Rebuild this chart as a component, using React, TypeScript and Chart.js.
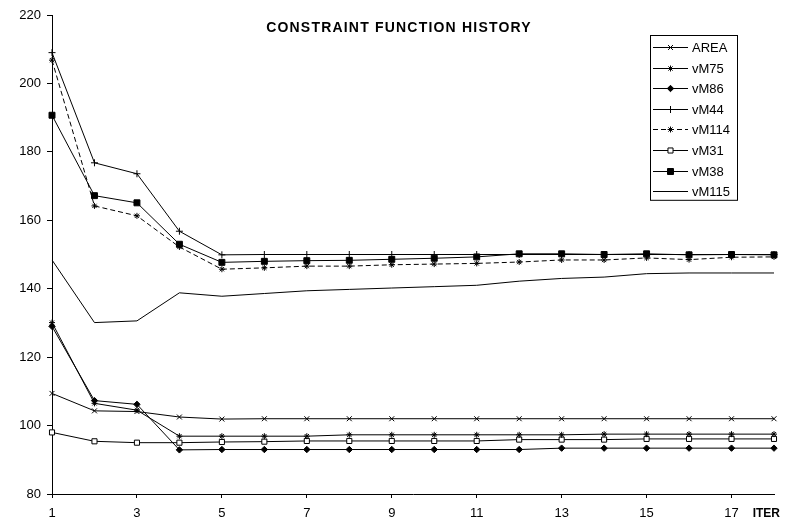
import React, { useEffect, useRef } from 'react';
import { Chart, registerables } from 'chart.js';

Chart.register(...registerables);

const iterations = ['1', '2', '3', '4', '5', '6', '7', '8', '9', '10', '11', '12', '13', '14', '15', '16', '17', '18'];
const xTickLabels = ['1', '3', '5', '7', '9', '11', '13', '15', '17'];
const xAxisLabel = 'ITER';
const chartTitle = 'CONSTRAINT FUNCTION HISTORY';
const seriesNames = ['AREA', 'vM75', 'vM86', 'vM44', 'vM114', 'vM31', 'vM38', 'vM115'];

const area = [109.4, 104.3, 104.1, 102.5, 101.9, 102.0, 102.0, 102.0, 102.0, 102.0, 102.0, 102.0, 102.0, 102.0, 102.0, 102.0, 102.0, 102.0];
const vM75 = [130.1, 106.5, 104.5, 96.9, 96.9, 96.9, 96.9, 97.3, 97.3, 97.3, 97.3, 97.3, 97.3, 97.5, 97.5, 97.5, 97.5, 97.5];
const vM86 = [129.0, 107.3, 106.2, 92.9, 93.0, 93.0, 93.0, 93.0, 93.0, 93.0, 93.0, 93.0, 93.4, 93.4, 93.4, 93.4, 93.4, 93.4];
const vM44 = [209.0, 176.8, 173.6, 156.8, 149.9, 150.0, 150.0, 150.0, 150.0, 150.0, 150.0, 150.0, 150.0, 150.0, 150.0, 150.0, 150.0, 150.0];
const vM114 = [206.8, 164.2, 161.3, 152.2, 145.7, 146.1, 146.6, 146.6, 147.0, 147.2, 147.4, 147.8, 148.4, 148.4, 149.0, 148.5, 149.2, 149.3];
const vM31 = [98.0, 95.4, 95.0, 95.0, 95.2, 95.3, 95.5, 95.5, 95.5, 95.5, 95.5, 95.9, 95.9, 95.9, 96.1, 96.1, 96.1, 96.1];
const vM38 = [190.7, 167.2, 165.1, 153.0, 147.7, 148.0, 148.2, 148.3, 148.6, 148.9, 149.3, 150.2, 150.2, 150.0, 150.2, 149.9, 150.0, 149.9];
const vM115 = [148.4, 130.1, 130.6, 138.8, 137.8, 138.6, 139.4, 139.8, 140.2, 140.6, 141.0, 142.2, 143.0, 143.4, 144.4, 144.6, 144.6, 144.6];

const seriesValues = [area, vM75, vM86, vM44, vM114, vM31, vM38, vM115];

const FONT = '"Liberation Sans", Arial, sans-serif';

type MarkerDef = { style: string | false; radius: number; fill: string; dash: number[] };
const markers: MarkerDef[] = [
  { style: 'crossRot', radius: 3.5, fill: '#000', dash: [] },
  { style: 'star', radius: 3, fill: '#000', dash: [] },
  { style: 'rectRot', radius: 3.2, fill: '#000', dash: [] },
  { style: 'cross', radius: 3.5, fill: '#000', dash: [] },
  { style: 'star', radius: 3, fill: '#000', dash: [5, 3] },
  { style: 'rect', radius: 3.6, fill: '#fff', dash: [] },
  { style: 'rect', radius: 4.2, fill: '#000', dash: [] },
  { style: false, radius: 0, fill: '#000', dash: [] },
];

function drawMarker(ctx: CanvasRenderingContext2D, m: MarkerDef, x: number, y: number) {
  if (!m.style) return;
  const r = m.radius;
  ctx.save();
  ctx.setLineDash([]);
  ctx.lineWidth = 1;
  ctx.strokeStyle = '#000';
  ctx.fillStyle = m.fill;
  ctx.beginPath();
  const d = r * Math.SQRT1_2;
  if (m.style === 'cross' || m.style === 'star') {
    ctx.moveTo(x, y - r); ctx.lineTo(x, y + r);
    ctx.moveTo(x - r, y); ctx.lineTo(x + r, y);
  }
  if (m.style === 'crossRot' || m.style === 'star') {
    ctx.moveTo(x - d, y - d); ctx.lineTo(x + d, y + d);
    ctx.moveTo(x - d, y + d); ctx.lineTo(x + d, y - d);
  }
  if (m.style === 'rectRot') {
    ctx.moveTo(x, y - r); ctx.lineTo(x + r, y); ctx.lineTo(x, y + r); ctx.lineTo(x - r, y); ctx.closePath();
    ctx.fill();
  }
  if (m.style === 'rect') {
    ctx.rect(x - d, y - d, 2 * d, 2 * d);
    ctx.fill();
  }
  ctx.stroke();
  ctx.restore();
}

const decorPlugin = {
  id: 'decor',
  afterDraw(chart: any) {
    const ctx: CanvasRenderingContext2D = chart.ctx;
    const ca = chart.chartArea;
    ctx.save();
    // title
    ctx.fillStyle = '#000';
    ctx.font = `bold 14px ${FONT}`;
    (ctx as any).letterSpacing = '1.2px';
    ctx.textAlign = 'center';
    ctx.textBaseline = 'middle';
    ctx.fillText(chartTitle, chart.width / 2 + 5, ca.top + 13);
    (ctx as any).letterSpacing = '0px';
    // axis label
    ctx.font = `bold 12px ${FONT}`;
    ctx.textAlign = 'right';
    ctx.fillText(xAxisLabel, ca.right + 6, ca.bottom + 20);
    // legend
    const boxL = ca.right - 124;
    const boxT = ca.top + 20;
    const boxW = 87;
    const rowH = 20.6;
    const boxH = rowH * seriesNames.length;
    ctx.fillStyle = '#fff';
    ctx.fillRect(boxL, boxT, boxW, boxH);
    ctx.strokeStyle = '#000';
    ctx.lineWidth = 1;
    ctx.strokeRect(Math.round(boxL) + 0.5, Math.round(boxT) + 0.5, boxW, boxH);
    ctx.font = `13px ${FONT}`;
    ctx.textAlign = 'left';
    ctx.textBaseline = 'middle';
    seriesNames.forEach((name, i) => {
      const y = Math.round(boxT + 12 + i * rowH) + 0.5;
      const m = markers[i];
      ctx.save();
      ctx.strokeStyle = '#000';
      ctx.lineWidth = 1;
      ctx.setLineDash(m.dash);
      ctx.beginPath();
      ctx.moveTo(boxL + 3, y);
      ctx.lineTo(boxL + 38, y);
      ctx.stroke();
      ctx.restore();
      drawMarker(ctx, m, boxL + 20.5, y);
      ctx.fillStyle = '#000';
      ctx.fillText(name, boxL + 42, y + 1);
    });
    ctx.restore();
  },
};

export default function App() {
  const ref = useRef<HTMLCanvasElement | null>(null);
  useEffect(() => {
    if (!ref.current) return;
    const datasets = seriesNames.map((name, i) => {
      const m = markers[i];
      return {
        label: name,
        data: seriesValues[i],
        borderColor: '#000',
        backgroundColor: m.fill,
        borderWidth: 1,
        borderDash: m.dash,
        pointStyle: m.style || 'circle',
        pointRadius: m.style ? m.radius : 0,
        pointBorderWidth: 1,
        pointBorderColor: '#000',
        pointBackgroundColor: m.fill,
        pointHoverRadius: m.style ? m.radius : 0,
        tension: 0,
        fill: false,
      };
    });
    const chart = new Chart(ref.current, {
      type: 'line',
      data: { labels: iterations, datasets },
      plugins: [decorPlugin],
      options: {
        animation: false,
        responsive: true,
        maintainAspectRatio: false,
        layout: { padding: { top: 15, right: 14, left: 0, bottom: 0 } },
        plugins: { legend: { display: false }, title: { display: false }, tooltip: { enabled: false } },
        scales: {
          x: {
            type: 'category',
            offset: false,
            grid: {
              drawOnChartArea: false,
              drawTicks: true,
              tickLength: 4,
              color: (c: any) => (xTickLabels.includes(iterations[c.index]) ? '#000' : 'rgba(0,0,0,0)'),
            },
            border: { display: true, color: '#000', width: 1 },
            ticks: {
              autoSkip: false,
              maxRotation: 0,
              padding: 8,
              color: '#000',
              font: { family: FONT, size: 13 },
              callback: (_v: any, i: number) => (xTickLabels.includes(iterations[i]) ? iterations[i] : ''),
            },
            afterFit: (s: any) => { s.height = 28; },
          },
          y: {
            min: 80,
            max: 220,
            grid: { drawOnChartArea: false, drawTicks: true, tickLength: 5, color: '#000' },
            border: { display: true, color: '#000', width: 1 },
            ticks: { stepSize: 20, padding: 6, color: '#000', font: { family: FONT, size: 13 } },
            afterFit: (s: any) => { s.width = 52; },
          },
        },
      },
    });
    return () => chart.destroy();
  }, []);
  return (
    <div style={{ position: 'absolute', left: 0, top: 0, width: 788, height: 522, background: '#fff' }}>
      <canvas ref={ref} />
    </div>
  );
}
